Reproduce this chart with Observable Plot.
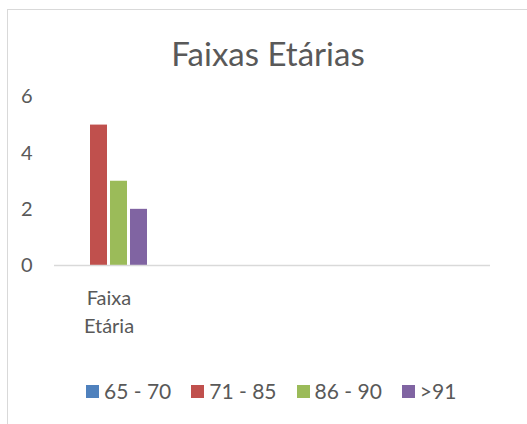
<!DOCTYPE html>
<html>
<head>
<meta charset="utf-8">
<script src="https://cdn.jsdelivr.net/npm/d3@7"></script>
<script src="https://cdn.jsdelivr.net/npm/@observablehq/plot@0.6"></script>
<style>
  body { margin: 0; background: #fff; font-family: Lato, sans-serif; color: #595959; }
  #wrap { position: relative; width: 527px; height: 424px; overflow: hidden; }
  #border { position: absolute; left: 7px; top: 9px; width: 600px; height: 500px; border: 1.5px solid #d9d9d9; }
  #title { position: absolute; left: 0; top: 37px; width: 536px; text-align: center; font-size: 33px; line-height: 33px; white-space: nowrap; }
  #chart { position: absolute; left: 0; top: 80px; }
  #legend { position: absolute; left: 86px; top: 378px; display: flex; align-items: center; font-size: 21px; line-height: 26px; white-space: nowrap; }
  .item { display: flex; align-items: center; margin-right: 20px; }
  .sw { width: 13px; height: 13px; margin-right: 5px; }
</style>
</head>
<body>
<div id="wrap">
  <div id="border"></div>
  <div id="title"></div>
  <div id="chart"></div>
  <div id="legend"></div>
</div>
<script>
const title = "Faixas Etárias";
const categories = ["Faixa Etária", "", "", ""];
const series = ["65 - 70", "71 - 85", "86 - 90", ">91"];
const values = [0, 5, 3, 2]; // values for "Faixa Etária"
const colors = ["#4f81bd", "#c0504d", "#9bbb59", "#8064a2"];
const yTicks = [0, 2, 4, 6];

const catIdx = categories.map((c, i) => i);
const rows = series.map((s, i) => ({cat: 0, series: s, value: values[i]}));

document.getElementById("title").textContent = title;

const chart = Plot.plot({
  width: 527,
  height: 260,
  marginLeft: 52,
  marginRight: 36,
  marginTop: 16.5,
  marginBottom: 75,
  style: {fontFamily: "Lato, sans-serif", fontSize: "20px", color: "#595959", background: "transparent", overflow: "visible"},
  fx: {domain: catIdx, paddingInner: 0, paddingOuter: 0, label: null, axis: null},
  x: {domain: series, paddingInner: 0.175, paddingOuter: 0.8, axis: null},
  y: {domain: [0, 6], label: null, axis: null},
  color: {domain: series, range: colors},
  marks: [
    Plot.barY(rows, {fx: "cat", x: "series", y: "value", fill: "series"}),
    Plot.ruleY(catIdx, {fx: d => d, y: () => 0, stroke: "#d9d9d9", strokeWidth: 1.5}),
    Plot.axisY({ticks: yTicks, tickFormat: d => String(d), tickSize: 0, tickPadding: 22, label: null, fill: "#595959"}),
    Plot.axisFx({anchor: "bottom", tickSize: 0, tickPadding: 20, label: null, fill: "#595959", lineWidth: 4.5, lineHeight: 1.4, tickFormat: i => categories[i]})
  ]
});
document.getElementById("chart").appendChild(chart);

const legend = document.getElementById("legend");
series.forEach((s, i) => {
  const item = document.createElement("div");
  item.className = "item";
  const sw = document.createElement("div");
  sw.className = "sw";
  sw.style.background = colors[i];
  const t = document.createElement("span");
  t.textContent = s;
  item.appendChild(sw);
  item.appendChild(t);
  legend.appendChild(item);
});
</script>
</body>
</html>
